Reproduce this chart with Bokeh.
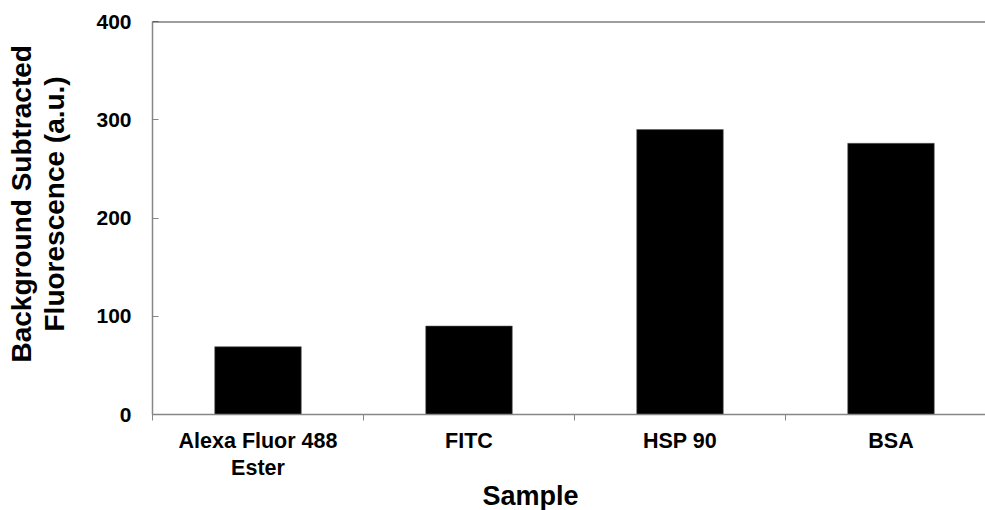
from bokeh.plotting import figure
from bokeh.models import Range1d, FixedTicker, Title, Span, ColumnDataSource
from bokeh.embed import file_html
from bokeh.resources import INLINE

categories = ["Alexa Fluor 488\nEster", "FITC", "HSP 90", "BSA"]
values = [69, 90, 290, 276]
y_ticks = [0, 100, 200, 300, 400]
x_title = "Sample"
y_title_lines = ["Background Subtracted", "Fluorescence (a.u.)"]

FONT = "Liberation Sans"
AXIS_COLOR = "#868686"

positions = [i + 0.5 for i in range(len(categories))]
boundaries = [i for i in range(len(categories) + 1)]

W, H = 985, 510
left, top, bottom = 152, 21, 96
frame_w = W - left
cat_px = 211.0

p = figure(
    width=W, height=H,
    x_range=Range1d(0, frame_w / cat_px),
    y_range=Range1d(0, 400),
    output_backend="svg", toolbar_location=None,
    min_border_left=left, min_border_right=0,
    min_border_top=top, min_border_bottom=bottom,
)
p.outline_line_color = None
p.grid.grid_line_color = None
p.background_fill_color = "white"
p.border_fill_color = "white"

src = ColumnDataSource(dict(x=positions, top=values))
p.vbar(x="x", top="top", width=0.41, bottom=0, source=src,
       fill_color="black", line_color="#5a5a5a", line_width=0.6)

# top border line at max of y axis
p.add_layout(Span(location=y_ticks[-1], dimension="width",
                  line_color="#3f3f3f", line_width=2))

# x axis
xa = p.xaxis[0]
xa.ticker = FixedTicker(ticks=positions, minor_ticks=boundaries)
xa.major_label_overrides = {pos: lab for pos, lab in zip(positions, categories)}
xa.major_tick_line_color = None
xa.major_tick_out = 0
xa.major_tick_in = 0
xa.minor_tick_line_color = AXIS_COLOR
xa.minor_tick_out = 6
xa.minor_tick_in = 0
xa.axis_line_color = AXIS_COLOR
xa.axis_line_width = 1.5
xa.major_label_text_font = FONT
xa.major_label_text_font_style = "bold"
xa.major_label_text_font_size = "21.5px"
xa.major_label_text_color = "black"
xa.major_label_text_line_height = 1.15
xa.major_label_standoff = 8

# y axis
ya = p.yaxis[0]
ya.ticker = FixedTicker(ticks=y_ticks)
ya.minor_tick_line_color = None
ya.major_tick_in = 6
ya.major_tick_out = 0
ya.major_tick_line_color = AXIS_COLOR
ya.axis_line_color = AXIS_COLOR
ya.axis_line_width = 1.5
ya.major_label_text_font = FONT
ya.major_label_text_font_style = "bold"
ya.major_label_text_font_size = "21px"
ya.major_label_text_color = "black"
ya.major_label_standoff = 21
# blank spacer label so the two-line title sits at the right distance
ya.axis_label = " "
ya.axis_label_text_font_size = "1px"
ya.axis_label_standoff = 20

# axis titles as side titles (positioned like the original)
tx = Title(text=x_title, align="left", offset=330,
           text_font=FONT, text_font_style="bold", text_font_size="27px",
           text_color="black", standoff=-9)
p.add_layout(tx, "below")

ty2 = Title(text=y_title_lines[1], align="left", offset=83,
            text_font=FONT, text_font_style="bold", text_font_size="28px",
            text_color="black", standoff=0)
p.add_layout(ty2, "left")
ty1 = Title(text=y_title_lines[0], align="left", offset=52,
            text_font=FONT, text_font_style="bold", text_font_size="28px",
            text_color="black", standoff=0)
p.add_layout(ty1, "left")

open("out.html", "w").write(file_html(p, INLINE))
